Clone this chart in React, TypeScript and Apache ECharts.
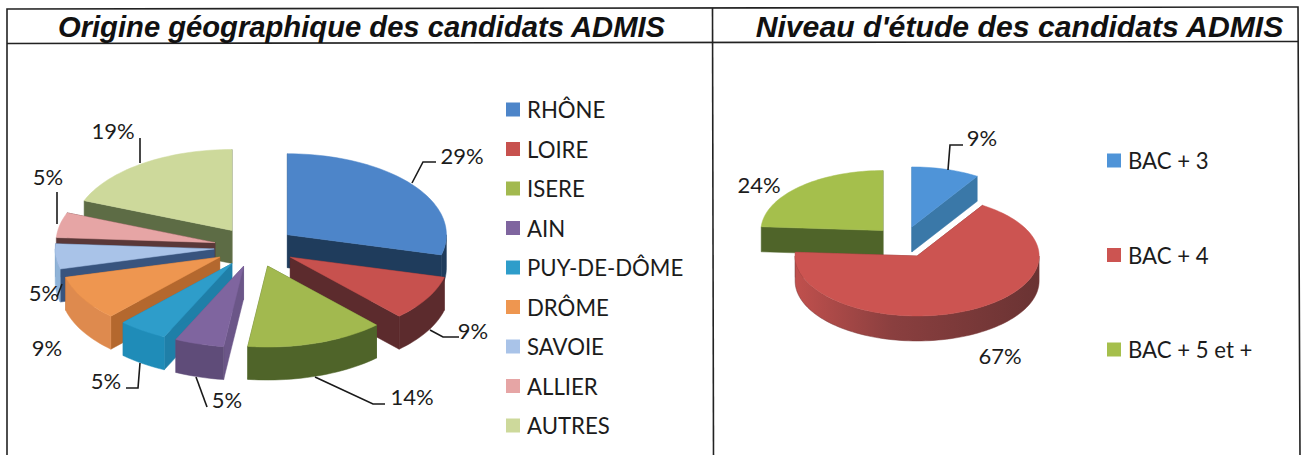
import React, { useEffect, useRef } from "react";
import * as echarts from "echarts";

// ---- data ----
const originNames = ["RHÔNE", "LOIRE", "ISERE", "AIN", "PUY-DE-DÔME", "DRÔME", "SAVOIE", "ALLIER", "AUTRES"];
const originValues = [29, 9, 14, 5, 5, 9, 5, 5, 19];
const levelNames = ["BAC + 3", "BAC + 4", "BAC + 5 et +"];
const levelValues = [9, 67, 24];
const titleOrigin = "Origine géographique des candidats ADMIS";
const titleLevel = "Niveau d'étude des candidats ADMIS";

// ---- styles ----
const originTop = ["#4d85c9", "#c7514e", "#a2b94f", "#7f659f", "#2e9dca", "#ee9650", "#a9c3e8", "#e6a5a5", "#cdd99b"];
const originRadial = ["#1f3c5c", "#5c2b2d", "#4f6429", "#6b5688", "#1f7fa8", "#b4682e", "#38547e", "#5a3838", "#5d6c45"];
const originWall = ["#1f3c5c", "#5c2b2d", "#4f6429", "#5f4c79", "#1f8cb8", "#de8a4e", "#8fb3d8", "#c98f8f", "#8a9a66"];
const levelTop = ["#4f94d8", "#cc5451", "#a5bf4c"];
const levelRadial = ["#3a78a8", "#7a3838", "#4f6429"];
const levelWall = ["#3a78a8", "#7a3838", "#4f6429"];

type Geo = { cx: number; cy: number; ex: number; ey: number; rx: number; ry: number; depth: number };
const originGeo: Geo = { cx: 255, cy: 247, ex: 41, ey: 20, rx: 159, ry: 81, depth: 33 };
const levelGeo: Geo = { cx: 903.5, cy: 242, ex: 30, ey: 15.7, rx: 122, ry: 60, depth: 25 };

// label centres and leader lines, per slice (layout only)
const originLabelPos = [[462, 155], [473, 330], [412, 396], [227, 399], [106, 380], [47, 347], [44, 292], [48, 176], [113, 130]];
const originLeaders = [
  [[412, 183], [423, 162], [436, 162]],
  [[430, 330], [443, 337], [459, 337]],
  [[315, 377], [373, 404], [385, 404]],
  [[196, 377], [207, 407]],
  [[140, 363], [138, 388], [126, 388]],
  [],
  [[62, 284], [57, 297]],
  [[57, 192], [57, 224]],
  [[140, 138], [140, 163]],
];
const levelLabelPos = [[982, 137], [1000, 355], [759, 184]];
const levelLeaders = [[[948, 170], [950, 145], [963, 145]], [], []];

const FONT = "Lato";

function buildSeries(
  names: string[], values: number[], geo: Geo,
  tops: string[], radials: string[], walls: string[],
  labelPos: number[][], leaders: number[][][], gradientWall: boolean
) {
  const total = values.reduce((a, b) => a + b, 0);
  let acc = 0;
  const slices = values.map((v, i) => {
    const start = (acc / total) * 360;
    acc += v;
    const end = (acc / total) * 360;
    return { i, start, end, mid: (start + end) / 2 };
  });
  const rad = (d: number) => (d * Math.PI) / 180;
  const ordered = [...slices].sort((a, b) => Math.cos(rad(b.mid)) - Math.cos(rad(a.mid)));

  return ordered.map((s) => ({
    type: "custom",
    name: names[s.i],
    coordinateSystem: "none",
    silent: true,
    itemStyle: { color: tops[s.i] },
    data: [[values[s.i]]],
    renderItem: (_p: any, api: any) => {
      const value = api.value(0);
      const ax = geo.cx + geo.ex * Math.sin(rad(s.mid));
      const ay = geo.cy - geo.ey * Math.cos(rad(s.mid));
      const pt = (t: number, dy = 0) => [ax + geo.rx * Math.sin(rad(t)), ay - geo.ry * Math.cos(rad(t)) + dy];
      const arc = (a: number, b: number, dy = 0) => {
        const n = Math.max(2, Math.ceil((b - a) / 2));
        const out: number[][] = [];
        for (let k = 0; k <= n; k++) out.push(pt(a + ((b - a) * k) / n, dy));
        return out;
      };
      const children: any[] = [];
      [s.start, s.end].forEach((t) => {
        const p = pt(t);
        children.push({
          type: "polygon",
          shape: { points: [[ax, ay], p, [p[0], p[1] + geo.depth], [ax, ay + geo.depth]] },
          style: { fill: radials[s.i], stroke: radials[s.i], lineWidth: 0.5 },
        });
      });
      const wa = Math.max(s.start, 90);
      const wb = Math.min(s.end, 270);
      if (wb > wa) {
        const top = arc(wa, wb);
        const bottom = arc(wa, wb, geo.depth).reverse();
        const fill = gradientWall && s.end - s.start > 180
          ? { type: "linear", x: 1, y: 0, x2: 0, y2: 0, colorStops: [{ offset: 0, color: "#6a3333" }, { offset: 0.6, color: "#8a3f3f" }, { offset: 1, color: "#c0504d" }] }
          : walls[s.i];
        children.push({
          type: "polygon",
          shape: { points: [...top, ...bottom] },
          style: { fill, stroke: walls[s.i], lineWidth: 0.5 },
        });
      }
      children.push({
        type: "polygon",
        shape: { points: [[ax, ay], ...arc(s.start, s.end)] },
        style: { fill: tops[s.i], stroke: tops[s.i], lineWidth: 0.5 },
      });
      if (leaders[s.i].length) {
        children.push({
          type: "polyline",
          z2: 50,
          shape: { points: leaders[s.i] },
          style: { stroke: "#1a1a1a", lineWidth: 1.6, fill: "none" },
        });
      }
      children.push({
        type: "text",
        z2: 60,
        style: {
          text: `${value}%`, x: labelPos[s.i][0], y: labelPos[s.i][1],
          align: "center", verticalAlign: "middle",
          font: `22px ${FONT}`, fill: "#1c1c1c",
        },
      });
      return { type: "group", children };
    },
  }));
}

const legendStyle = (names: string[], colors: string[], left: number, top: number, gap: number) => ({
  orient: "vertical",
  left,
  top,
  itemGap: gap,
  itemWidth: 14,
  itemHeight: 14,
  itemStyle: { borderWidth: 0 },
  icon: "rect",
  selectedMode: false,
  textStyle: { fontFamily: FONT, fontSize: 22.2, color: "#1c1c1c", lineHeight: 24, padding: [0, 0, 0, 2] },
  data: names.map((n, i) => ({ name: n, icon: "rect", itemStyle: { color: colors[i] } })),
});

const frameLine = (points: number[][]) => ({
  type: "polyline",
  shape: { points },
  style: { stroke: "#222", lineWidth: 1.6, fill: "none" },
});

const titleStyle = (size: number) => ({ fontFamily: "Liberation Sans", fontStyle: "italic", fontWeight: "bold", fontSize: size, color: "#111" });

export default function App() {
  const ref = useRef<HTMLDivElement>(null);
  useEffect(() => {
    const chart = echarts.init(ref.current!, undefined, { renderer: "svg" });
    chart.setOption({
      animation: false,
      backgroundColor: "#ffffff",
      title: [
        { text: titleOrigin, left: 359.5, top: 10, padding: 2, textAlign: "center", textStyle: titleStyle(29.2) },
        { text: titleLevel, left: 1017.5, top: 9, padding: 2, textAlign: "center", textStyle: titleStyle(30.2) },
      ],
      legend: [
        legendStyle(originNames, originTop, 501, 92.5, 15.5),
        legendStyle(levelNames, levelTop, 1102, 143.5, 70.5),
      ],
      graphic: {
        elements: [
          frameLine([[7, 455], [7, 9], [1298, 7], [1300, 455]]),
          frameLine([[7, 43.5], [1298, 41.5]]),
          frameLine([[712.5, 8], [713.5, 455]]),
        ],
      },
      series: [
        ...buildSeries(originNames, originValues, originGeo, originTop, originRadial, originWall, originLabelPos, originLeaders, false),
        ...buildSeries(levelNames, levelValues, levelGeo, levelTop, levelRadial, levelWall, levelLabelPos, levelLeaders, true),
      ],
    });
    return () => chart.dispose();
  }, []);
  return <div ref={ref} style={{ position: "fixed", left: 0, top: 0, width: 1304, height: 455 }} />;
}
